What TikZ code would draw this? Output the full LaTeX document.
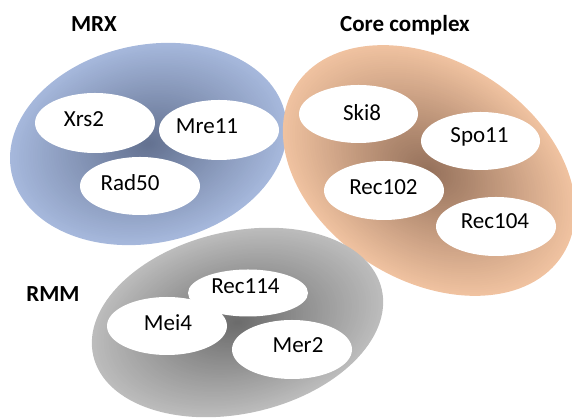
\documentclass[tikz,border=0pt]{standalone}
\usepackage{fontspec}
\setmainfont{Carlito}
\definecolor{bOut}{RGB}{166,184,220}
\definecolor{bIn}{RGB}{100,114,145}
\definecolor{oOut}{RGB}{240,194,160}
\definecolor{oIn}{RGB}{150,114,92}
\definecolor{gOut}{RGB}{188,188,188}
\definecolor{gIn}{RGB}{108,108,108}
\newcommand\gradell[7]{%
  \begin{scope}[shift={(#1,#2)},rotate=#3]
    \foreach \i in {0,...,59}{
      \pgfmathsetmacro\s{1-\i/60}
      \pgfmathsetmacro\p{100*\i/59}
      \colorlet{tmpc}{#7!\p!#6}
      \fill[tmpc] (0,0) ellipse [x radius=#4*\s, y radius=#5*\s];
    }
  \end{scope}}
\tikzset{
  lbl/.style={anchor=base, inner sep=0pt, font=\fontsize{23}{27}\selectfont},
  ttl/.style={anchor=base, inner sep=0pt, font=\fontsize{23}{27}\selectfont\bfseries},
  hole/.style={fill=white}
}
\begin{document}
\begin{tikzpicture}[x=1pt,y=1pt]
\useasboundingbox (0,0) rectangle (572,419);
\clip (0,0) rectangle (572,419);
% big shaded groups
\gradell{148.5}{275}{12}{140}{99}{bOut}{bIn}
\gradell{429}{248.5}{-32}{158}{110}{oOut}{oIn}
\gradell{237.5}{96.5}{13}{148}{91}{gOut}{gIn}
% MRX members
\fill[hole] (95,296) ellipse [x radius=60, y radius=30];
\fill[hole] (219,289) ellipse [x radius=60, y radius=30];
\fill[hole] (140,233) ellipse [x radius=60, y radius=29];
\node[lbl] (xrs2) at (84,292.6) {Xrs2};
\node[lbl] (mre11) at (207,285.6) {Mre11};
\node[lbl] (rad50) at (130,228.6) {Rad50};
% Core complex members
\fill[hole] (358.5,305) ellipse [x radius=59.5, y radius=29];
\fill[hole] (480.5,278) ellipse [x radius=59.5, y radius=29];
\fill[hole] (384,228.5) ellipse [x radius=60, y radius=29.5];
\fill[hole] (496,192.5) ellipse [x radius=60, y radius=29.5];
\node[lbl] (ski8) at (362,298.6) {Ski8};
\node[lbl] (spo11) at (479.5,276.6) {Spo11};
\node[lbl] (rec102) at (383.5,224.6) {Rec102};
\node[lbl] (rec104) at (495,190.6) {Rec104};
% RMM members
\fill[hole] (248,126) ellipse [x radius=60, y radius=23.5];
\fill[hole] (167,93) ellipse [x radius=60, y radius=29];
\fill[hole] (292,69.5) ellipse [x radius=60, y radius=29.5];
\node[lbl] (rec114) at (245.5,125.6) {Rec114};
\node[lbl] (mei4) at (168,88.6) {Mei4};
\node[lbl] (mer2) at (298,66.6) {Mer2};
% titles
\node[ttl] (mrx) at (94,387.6) {MRX};
\node[ttl] (core) at (405,387.6) {Core complex};
\node[ttl] (rmm) at (53,117.1) {RMM};
\end{tikzpicture}
\end{document}
